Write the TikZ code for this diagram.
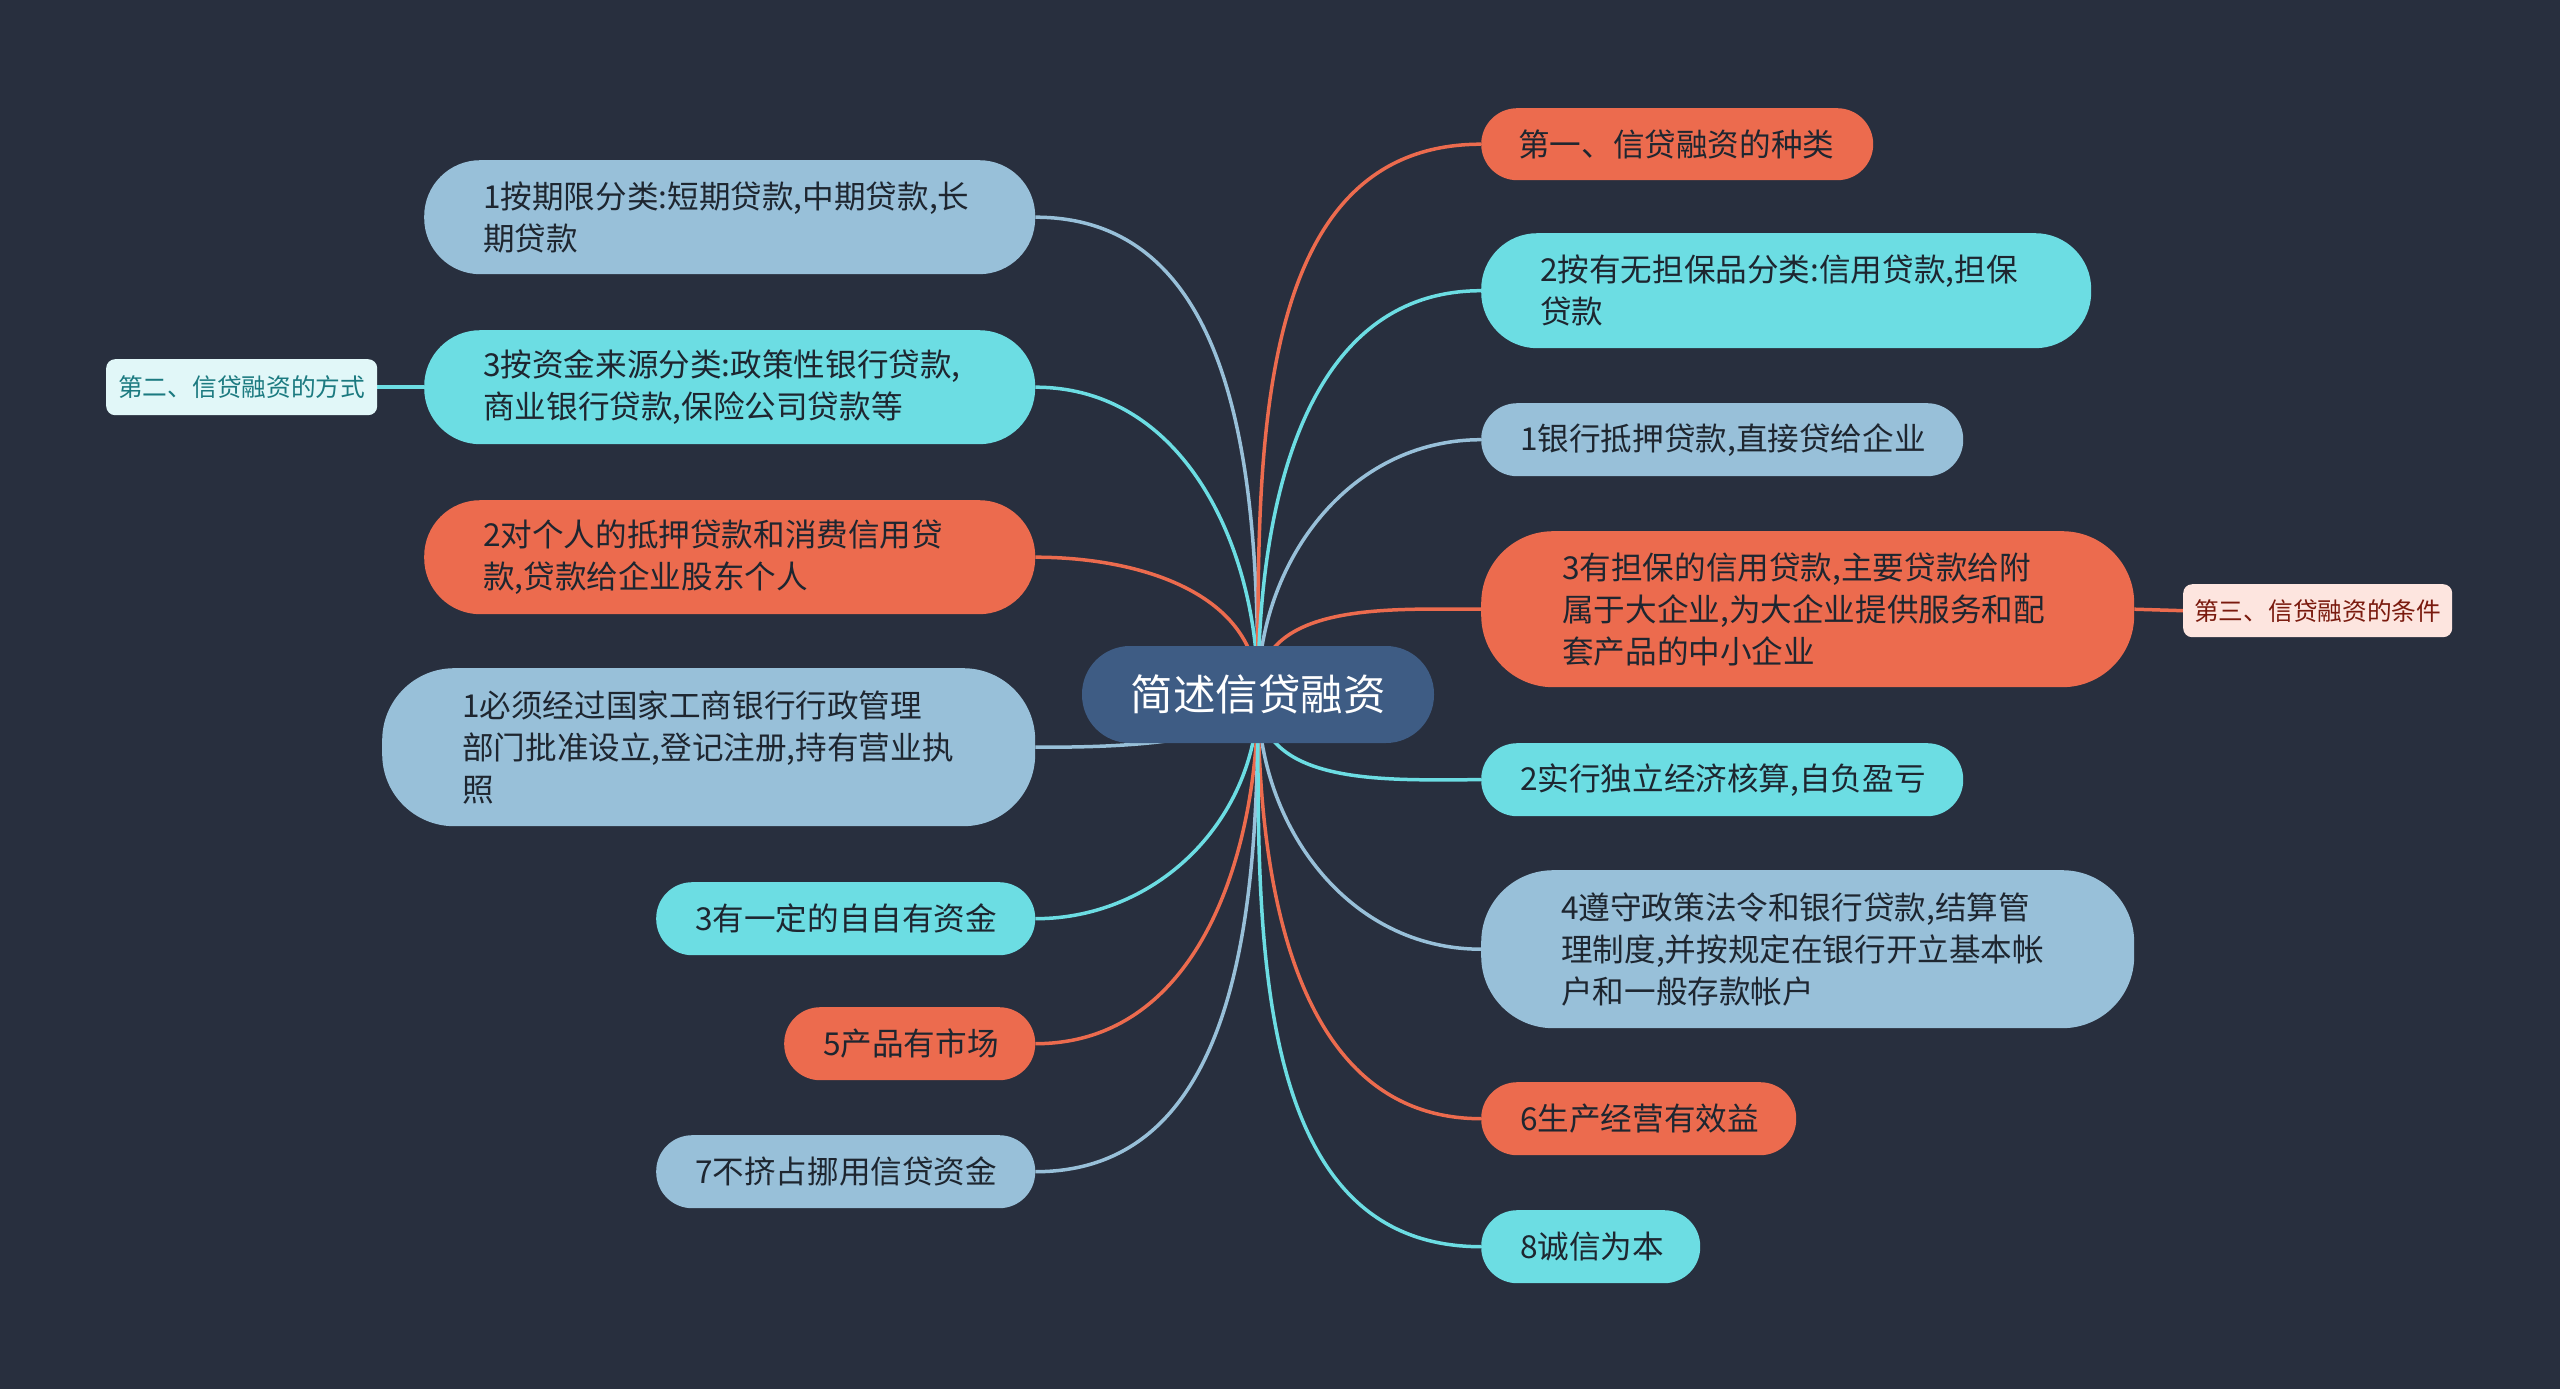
\documentclass[tikz,border=0pt]{standalone}
\usepackage{fontspec}
\setmainfont{Noto Sans CJK SC}
\definecolor{bgc}{HTML}{282F3E}
\definecolor{oc}{HTML}{EC6B4E}
\definecolor{cc}{HTML}{6CDDE3}
\definecolor{lc}{HTML}{98C0D9}
\definecolor{mc}{HTML}{3E5C84}
\definecolor{tagcf}{HTML}{E1F7F8}
\definecolor{tagct}{HTML}{1B7A80}
\definecolor{tagof}{HTML}{FDE5DF}
\definecolor{tagot}{HTML}{7A1A0E}
\definecolor{ink}{HTML}{1E2630}
\pgfdeclarelayer{bgl}
\pgfdeclarelayer{lines}
\pgfsetlayers{bgl,lines,main}
\tikzset{
  topic/.style={anchor=north west, align=left, inner ysep=0pt,
    font=\fontsize{31.6}{42}\selectfont, text=ink},
  ob/.style={topic, fill=oc},
  cb/.style={topic, fill=cc},
  lb/.style={topic, fill=lc},
  one/.style={minimum height=73pt, inner xsep=39pt, rounded corners=36pt},
  two/.style={minimum height=114pt, inner xsep=59pt, rounded corners=56pt},
  three/.style={minimum height=157pt, inner xsep=80pt, rounded corners=72pt},
  rootnode/.style={fill=mc, text=white, inner sep=0pt, minimum width=352pt,
    minimum height=97pt, rounded corners=48pt, font=\fontsize{42.5}{50}\selectfont},
  tagbox/.style={anchor=north west, inner sep=0pt, rounded corners=9pt,
    font=\fontsize{24.7}{30}\selectfont},
  conn/.style={line width=3.5pt}
}
\begin{document}
\begin{tikzpicture}[x=1pt,y=1pt]
\useasboundingbox (0,0) rectangle (2560,-1389);
\begin{pgfonlayer}{bgl}
\fill[bgc] (0,0) rectangle (2560,-1389);
\end{pgfonlayer}

\node[rootnode] (c) at (1258,-694.5) {简述信贷融资};

% left side
\node[lb, two, text width=493pt] (l1) at (424,-160) {1按期限分类:短期贷款,中期贷款,长\\期贷款};
\node[cb, two, text width=493pt] (l2) at (424,-330) {3按资金来源分类:政策性银行贷款,\\商业银行贷款,保险公司贷款等};
\node[ob, two, text width=493pt] (l4) at (424,-500) {2对个人的抵押贷款和消费信用贷\\款,贷款给企业股东个人};
\node[lb, three, text width=493pt, minimum height=158pt] (l5) at (382,-668) {1必须经过国家工商银行行政管理\\部门批准设立,登记注册,持有营业执\\照};
\node[cb, one, text width=301pt] (l6) at (656,-882) {3有一定的自自有资金};
\node[ob, one, text width=173pt] (l7) at (784,-1007) {5产品有市场};
\node[lb, one, text width=301pt] (l8) at (656,-1135) {7不挤占挪用信贷资金};

\node[tagbox, fill=tagcf, text=tagct, minimum width=271pt, minimum height=56pt] (t2) at (106,-359) {第二、信贷融资的方式};

% right side
\node[ob, one, text width=318pt, inner xsep=37pt, minimum height=72pt] (r1) at (1481,-108) {第一、信贷融资的种类};
\node[cb, two, text width=492pt, minimum height=115pt] (r2) at (1481,-233) {2按有无担保品分类:信用贷款,担保\\贷款};
\node[lb, one, text width=404pt] (r3) at (1481,-403) {1银行抵押贷款,直接贷给企业};
\node[ob, three, text width=491pt, inner xsep=81pt, minimum height=156pt] (r4) at (1481,-531) {3有担保的信用贷款,主要贷款给附\\属于大企业,为大企业提供服务和配\\套产品的中小企业};
\node[cb, one, text width=404pt] (r6) at (1481,-743) {2实行独立经济核算,自负盈亏};
\node[lb, three, text width=493pt, minimum height=158pt] (r7) at (1481,-870) {4遵守政策法令和银行贷款,结算管\\理制度,并按规定在银行开立基本帐\\户和一般存款帐户};
\node[ob, one, text width=237pt] (r8) at (1481,-1082) {6生产经营有效益};
\node[cb, one, text width=141pt] (r9) at (1481,-1210) {8诚信为本};

\node[tagbox, fill=tagof, text=tagot, minimum width=269pt, minimum height=53pt] (t3) at (2183,-584) {第三、信贷融资的条件};

\begin{pgfonlayer}{lines}
\draw[conn, draw=lc] (c.center) to[out=90, in=0] (l1.east);
\draw[conn, draw=cc] (c.center) to[out=90, in=0] (l2.east);
\draw[conn, draw=oc] (c.center) to[out=90, in=0] (l4.east);
\draw[conn, draw=lc] (c.center) to[out=-90, in=0, looseness=0.6] (l5.east);
\draw[conn, draw=cc] (c.center) to[out=-90, in=0] (l6.east);
\draw[conn, draw=oc] (c.center) to[out=-90, in=0] (l7.east);
\draw[conn, draw=lc] (c.center) to[out=-90, in=0] (l8.east);
\draw[conn, draw=oc] (c.center) to[out=90, in=180] (r1.west);
\draw[conn, draw=cc] (c.center) to[out=90, in=180] (r2.west);
\draw[conn, draw=lc] (c.center) to[out=90, in=180] (r3.west);
\draw[conn, draw=oc] (c.center) to[out=90, in=180] (r4.west);
\draw[conn, draw=cc] (c.center) to[out=-90, in=180] (r6.west);
\draw[conn, draw=lc] (c.center) to[out=-90, in=180] (r7.west);
\draw[conn, draw=oc] (c.center) to[out=-90, in=180] (r8.west);
\draw[conn, draw=cc] (c.center) to[out=-90, in=180] (r9.west);
\draw[conn, draw=cc] (t2.east) -- (l2.west);
\draw[conn, draw=oc] (r4.east) -- (t3.west);
\end{pgfonlayer}
\end{tikzpicture}
\end{document}
